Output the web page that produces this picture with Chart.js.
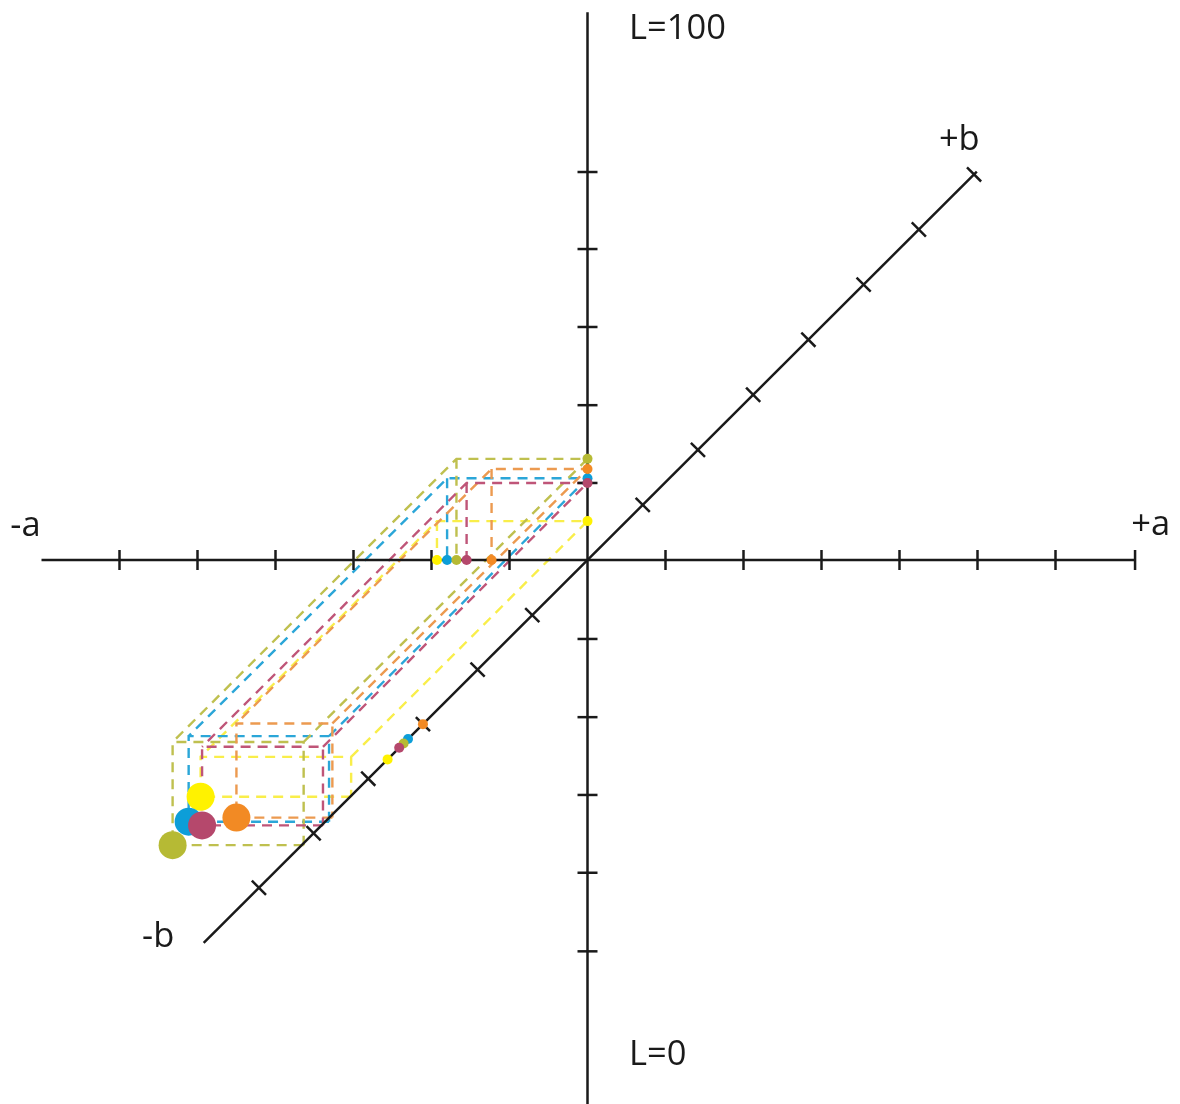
<!DOCTYPE html>
<html>
<head>
<meta charset="utf-8">
<title>Lab colour space</title>
<script src="https://cdn.jsdelivr.net/npm/chart.js@4/dist/chart.umd.min.js"></script>
<style>
  html, body { margin: 0; padding: 0; background: #fff; }
  canvas { display: block; }
</style>
</head>
<body>
<canvas id="lab" width="1180" height="1104"></canvas>
<script>
// one unit = one tick on each axis
const swatches = ['yellow', 'blue', 'olive', 'orange', 'magenta'];
const aValues = [-1.93, -1.80, -1.68, -1.23, -1.55];
const bValues = [-4.28, -4.68, -5.14, -4.62, -4.79];
const lValues = [0.50, 1.05, 1.30, 1.17, 0.99];
// big dots sit a hair under the L=0 plane in the picture
const floorValues = [-0.013, -0.05, -0.026, -0.04, -0.02];
// the small dots on the b axis do not sit on the box corners in the picture
const bAxisDots = [-3.62, -3.25, -3.33, -2.98, -3.41];

// tick spacing in the picture is a little uneven, so these are as read
const aTicks = [-6, -5, -4, -3, -2, -1, 1, 2, 3, 4, 5, 6, 7.02];
const lTicks = [-5.03, -4.02, -3.02, -2.02, -1.015, 0.99, 1.99, 2.995, 3.997, 4.987];
const bTicks = [-5.95, -4.96, -3.97, -2.98, -1.99, -1, 1, 2, 3, 4, 5, 6, 7];
const axisLabels = ['L=100', 'L=0', '+a', '-a', '+b', '-b'];

const dotColors = ['#fff200', '#0d9ed8', '#b6ba34', '#f28a24', '#b5486c'];
const dashColors = ['#f9ee4a', '#2ba6d8', '#bfc04f', '#ec9a50', '#bf5578'];
const ink = '#1a1a1a';

// b runs at 45 degrees, foreshortened
const depth = 0.708;
const project = (a, b, l) => ({ x: a + b * depth, y: l + b * depth });

const labelSpots = [[0.532, 6.825], [0.532, -6.365], [6.97, 0.45], [-7.40, 0.435], [4.505, 5.395], [-5.71, -4.845]];

const gap = { x: NaN, y: NaN };

function boxEdges(a, b, l, floor) {
  const A = project(a, 0, 0), B = project(0, b, floor), L = project(0, 0, l);
  const AB = project(a, b, floor), AL = project(a, 0, l), BL = project(0, b, l), ABL = project(a, b, l);
  return [B, AB, ABL, BL, B, gap, BL, L, AL, ABL, gap, AL, A];
}

const datasets = [];

// dashed boxes go at the back
swatches.forEach((name, i) => {
  datasets.push({
    label: name + ' box',
    data: boxEdges(aValues[i], bValues[i], lValues[i], floorValues[i]),
    showLine: true,
    spanGaps: false,
    borderColor: dashColors[i],
    borderWidth: 2.4,
    borderDash: [10, 7],
    pointRadius: 0,
    order: 30 - i
  });
});

const axisLine = (label, data) => ({
  label, data, showLine: true, borderColor: ink, borderWidth: 2.5, pointRadius: 0, order: 20
});
const tickMarks = (label, data, rotation) => ({
  label, data, showLine: false, pointStyle: 'line', pointRotation: rotation, pointRadius: 10,
  pointBorderColor: ink, pointBorderWidth: 2.5, order: 20
});

datasets.push(axisLine('a axis', [{ x: -7.0, y: 0 }, { x: 7.02, y: 0 }]));
datasets.push(axisLine('L axis', [{ x: 0, y: 7.04 }, { x: 0, y: -7.1 }]));
datasets.push(axisLine('b axis', [project(0, -6.95, 0), project(0, 7.05, 0)]));
datasets.push(tickMarks('a ticks', aTicks.map(a => project(a, 0, 0)), 90));
datasets.push(tickMarks('L ticks', lTicks.map(l => project(0, 0, l)), 0));
datasets.push(tickMarks('b ticks', bTicks.map(b => project(0, b, 0)), 45));

swatches.forEach((name, i) => {
  const small = [project(aValues[i], 0, 0), project(0, 0, lValues[i]), project(0, bAxisDots[i], 0)];
  datasets.push({
    label: name + ' axis dots',
    data: small,
    showLine: false,
    pointRadius: 5,
    pointBorderWidth: 0,
    pointBackgroundColor: dotColors[i],
    order: 10 - i
  });
  datasets.push({
    label: name,
    data: [project(aValues[i], bValues[i], floorValues[i])],
    showLine: false,
    pointRadius: 14,
    pointBorderWidth: 0,
    pointBackgroundColor: dotColors[i],
    order: 10 - i
  });
});

const axisText = {
  id: 'axisText',
  afterDatasetsDraw(chart) {
    const { ctx, scales } = chart;
    ctx.save();
    ctx.fillStyle = ink;
    ctx.font = '34.5px "Open Sans"';
    ctx.textAlign = 'left';
    ctx.textBaseline = 'middle';
    axisLabels.forEach((text, i) => {
      ctx.fillText(text, scales.x.getPixelForValue(labelSpots[i][0]), scales.y.getPixelForValue(labelSpots[i][1]));
    });
    ctx.restore();
  }
};

new Chart(document.getElementById('lab'), {
  type: 'scatter',
  data: { datasets },
  plugins: [axisText],
  options: {
    responsive: false,
    animation: false,
    layout: { padding: 0, autoPadding: false },
    plugins: { legend: { display: false }, tooltip: { enabled: false } },
    scales: {
      x: { type: 'linear', display: false, min: -587.5 / 78, max: 592.5 / 78 },
      y: { type: 'linear', display: false, min: -544 / 77.8, max: 560 / 77.8 }
    }
  }
});
</script>
</body>
</html>
